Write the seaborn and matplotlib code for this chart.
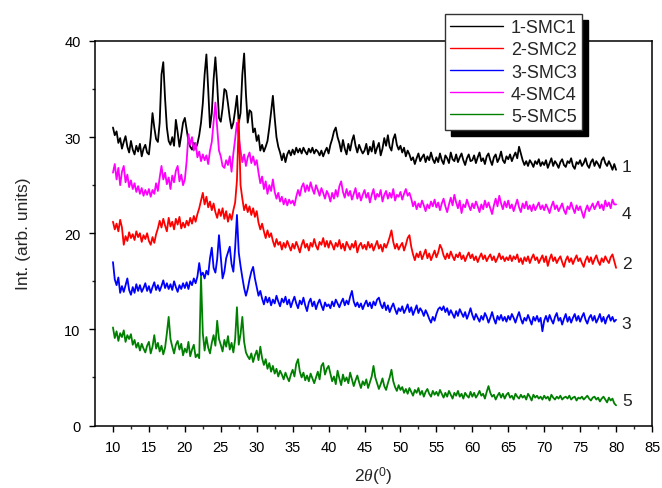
import numpy as np
import pandas as pd
import matplotlib
matplotlib.use("Agg")
import matplotlib.pyplot as plt
import seaborn as sns

# 2-theta grid (degrees), 0.25 deg steps from 10 to 80
two_theta = np.linspace(10, 80, 281)

smc1 = [
    31.0, 30.2, 30.6, 29.4, 29.9, 28.8, 29.5, 30.1, 29.0, 28.4, 29.6, 28.7, 28.2, 29.1, 28.5, 29.3, 28.0, 28.8, 29.2, 28.4,
    28.2, 30.0, 32.5, 31.0, 29.8, 29.5, 31.5, 36.5, 37.8, 34.0, 31.0, 29.6, 29.2, 30.0, 29.1, 31.8, 30.5, 29.0, 30.2, 31.5,
    32.0, 30.8, 29.6, 29.0, 28.7, 29.4, 28.8, 29.3, 30.2, 31.5, 33.5, 36.5, 38.6, 35.0, 31.0, 32.5, 36.0, 38.3, 35.5, 32.0,
    31.6, 33.0, 35.0, 34.8, 33.5, 32.0, 30.9, 31.5, 32.8, 34.3, 31.5, 32.5, 36.5, 38.7, 34.5, 31.5, 32.8, 32.6, 30.5, 30.9,
    29.6, 30.2, 28.6, 29.2, 28.5, 29.0, 29.6, 31.0, 32.6, 34.3, 32.0, 30.0, 29.0, 28.4, 27.6, 28.3, 27.4, 28.2, 28.6, 28.1,
    28.7, 28.2, 28.9, 28.4, 28.8, 28.3, 28.9, 28.5, 28.2, 28.8, 28.4, 28.9, 28.3, 28.7, 28.5, 28.1, 28.6, 28.0, 28.5, 28.9,
    28.3, 29.2, 29.8, 30.6, 31.0, 30.0, 29.4, 28.5, 29.7, 28.8, 28.2, 29.3, 28.6, 29.6, 30.2, 29.1, 28.4, 29.2, 28.7, 28.3,
    28.6, 29.3, 28.2, 29.0, 28.5, 29.6, 28.3, 28.9, 29.4, 28.1, 28.8, 29.9, 29.1, 30.2, 29.0, 28.6, 29.8, 30.3, 29.2, 28.7,
    29.1, 28.4, 28.9, 28.0, 28.6, 28.2, 27.6, 27.9, 27.2, 27.8, 28.3, 27.5, 27.9, 28.2, 27.4, 28.0, 27.6, 28.4, 27.7, 27.3,
    27.9, 27.4, 28.3, 27.6, 27.2, 28.1, 27.8, 27.3, 28.4, 27.7, 27.5, 28.2, 27.4, 27.9, 28.3, 27.6, 27.1, 27.8, 28.2, 27.5,
    27.6, 28.1, 27.3, 27.9, 28.4, 27.5, 27.8, 27.2, 28.0, 28.3, 27.6, 27.1, 27.9, 28.2, 27.4, 27.8, 28.5, 27.6, 27.3, 28.0,
    27.7, 28.2, 27.5, 28.0, 28.4, 27.8, 29.0, 28.3, 27.6, 27.1, 27.5, 27.0, 27.6, 27.3, 26.9, 27.5, 27.2, 27.7, 27.0, 27.4,
    27.1, 27.6, 26.8, 27.3, 27.8, 27.0, 27.5, 27.2, 26.8, 27.4, 27.7, 27.1, 26.9, 27.5, 27.3, 27.8, 27.0, 26.7, 27.4, 27.2,
    27.6, 27.0, 27.3, 27.8, 27.1, 26.8, 27.4, 27.7, 27.0, 27.5, 27.2, 26.8, 27.6, 27.9, 27.3, 27.0, 27.5, 27.1, 26.6, 27.2,
    26.6,
]

smc2 = [
    21.2, 20.4, 21.0, 20.2, 21.4, 20.6, 18.8, 19.7, 19.2, 20.1, 19.5, 19.9, 19.3, 20.2, 19.6, 20.0, 19.1, 19.8, 19.4, 20.0,
    19.2, 18.8, 19.6, 19.0, 19.9, 20.5, 21.3, 20.6, 21.5, 20.8, 20.2, 21.6, 20.7, 21.2, 20.4, 21.5, 20.9, 21.7, 20.5, 21.1,
    20.6, 21.3, 20.8, 21.6, 21.0, 21.8, 21.2, 22.0, 22.6, 23.4, 24.2, 23.0, 23.8, 22.7, 23.3, 22.4, 23.1, 22.2, 21.6, 22.5,
    21.8, 22.6, 21.5, 22.3, 21.2, 22.0, 21.4, 22.4, 23.2, 25.5, 31.8, 25.0, 23.6, 22.4, 23.0, 22.2, 22.8, 21.9, 22.6, 21.7,
    22.3, 21.1, 20.4, 21.0, 20.2, 19.5, 20.3, 19.6, 20.0, 19.2, 18.6, 19.4, 18.8, 19.1, 18.3, 19.0, 18.5, 19.2, 18.7, 18.2,
    18.9, 18.4, 19.1, 18.6, 18.0, 18.8, 19.3, 18.5, 18.9, 18.2, 19.0, 18.6, 19.4, 18.7, 18.3, 19.1, 18.8, 19.5, 18.6, 19.2,
    18.5, 19.2, 18.8, 18.3, 19.0, 18.6, 19.3, 18.4, 18.9, 18.2, 19.1, 18.7, 18.3, 18.9, 18.5, 19.2, 18.0, 18.7, 19.0, 18.4,
    18.8, 18.3, 19.1, 18.5, 18.9, 18.2, 18.7, 19.2, 18.4, 18.8, 18.1, 18.9, 18.5, 19.0, 19.6, 20.3, 19.1, 18.4, 18.9, 18.3,
    18.7, 19.0, 18.2, 18.8, 19.5, 19.8, 18.6, 17.8, 17.2, 17.9, 17.5, 18.1, 17.3, 17.8, 18.3, 17.4, 17.9, 17.2, 17.7, 18.2,
    17.5, 18.0, 18.8, 18.4, 17.7, 17.3, 17.9, 17.4, 18.1, 17.6, 17.2, 17.8, 17.5, 18.0, 17.3, 17.7, 17.1, 17.6, 18.0, 17.4,
    17.8, 17.2, 17.6, 17.0, 17.5, 17.9, 17.3, 17.7, 17.1, 17.5, 17.8, 17.2, 17.6, 17.0, 17.4, 17.9, 17.3, 17.6, 17.1, 17.5,
    17.2, 17.7, 17.1, 17.6, 17.3, 17.8, 17.0, 17.4, 16.8, 17.5, 17.1, 17.6, 16.9, 17.4, 17.8, 17.2, 17.5, 16.9, 17.3, 17.7,
    17.0, 17.6, 16.6, 17.3, 17.8, 17.1, 17.5, 16.9, 17.3, 17.6, 17.0, 16.5, 17.2, 17.6, 17.0, 17.4, 16.8, 17.3, 17.7, 17.1,
    17.4, 16.9, 16.5, 17.2, 17.6, 17.0, 17.5, 16.8, 17.3, 17.7, 17.1, 16.7, 17.4, 17.0, 17.6, 17.2, 16.9, 17.5, 17.8, 17.1,
    16.4,
]

smc3 = [
    17.0, 15.2, 14.6, 15.4, 13.8, 14.5, 13.9, 14.6, 15.3, 14.1, 13.6, 14.4, 13.8, 14.7, 14.0, 14.6, 13.9, 14.3, 14.8, 14.0,
    14.5, 13.8, 14.4, 14.9, 14.1, 14.6, 14.0, 14.5, 15.1, 14.3, 14.8, 14.2, 14.7, 14.1, 15.0, 14.4, 13.9, 14.6, 14.2, 14.8,
    14.3, 14.9, 14.2, 15.0, 14.6, 15.3, 14.8, 15.5, 16.9, 15.6, 15.9, 15.3, 16.1, 15.7, 17.4, 18.5, 16.4, 15.9, 17.3, 19.8,
    17.5, 15.3, 16.0, 17.4, 18.0, 18.6, 16.8, 16.0, 18.5, 21.9, 18.0, 16.6, 15.4, 14.3, 13.5, 14.2, 15.2, 16.0, 16.5, 15.3,
    14.4, 13.5, 14.0, 13.2, 12.6, 13.4, 12.8, 13.3, 12.5, 13.1, 12.7, 13.5, 12.9, 12.4, 13.2, 12.8, 13.4, 12.6, 13.1, 12.3,
    12.9, 13.4, 12.7, 12.2, 13.0, 12.6, 13.3, 12.5, 11.9, 12.8, 13.2, 12.4, 12.9, 12.1, 12.7, 13.1, 12.5, 12.0, 12.8, 12.4,
    12.6, 12.2, 12.9, 12.4, 13.1, 12.7, 12.3, 12.8, 13.2, 12.5, 13.0, 12.6, 13.4, 14.0, 12.9, 12.4, 12.8, 12.3, 12.7, 12.1,
    12.6, 13.0, 12.4, 12.8, 12.2, 12.9, 12.5, 13.1, 13.3, 12.6, 12.2, 12.8, 12.0, 12.5, 11.8, 12.3, 12.7, 12.1, 11.6, 12.2,
    11.9, 12.4, 11.7, 12.1, 12.6, 11.8, 12.3, 11.5, 12.0, 12.5, 11.7, 12.2, 11.9, 11.4, 12.0, 11.6, 11.1, 10.7, 11.3, 10.9,
    11.6, 12.1, 12.3, 12.0, 12.4, 11.8, 12.2, 11.5, 12.0, 11.6, 11.2, 11.9, 11.4, 12.1, 11.7, 11.3, 11.8, 11.1, 11.6, 12.2,
    11.5, 11.0, 11.6, 11.2, 10.8, 11.4, 11.0, 11.7, 11.3, 10.7, 11.2, 11.8, 11.1, 10.6, 11.4, 11.0, 11.5, 10.9, 11.3, 10.8,
    11.4, 11.0, 11.6, 11.2, 10.7, 11.3, 11.8, 11.1, 10.6, 11.2, 10.9, 11.5, 11.0, 10.5, 11.3, 10.9, 11.4, 10.8, 11.2, 9.8,
    10.9, 11.4, 10.8, 11.5, 11.0, 10.6, 11.3, 11.7, 10.9, 11.2, 10.5, 11.1, 11.6, 10.8, 11.3, 10.7, 11.2, 11.6, 10.9, 11.4,
    10.8, 11.3, 11.7, 11.0, 10.6, 11.2, 11.5, 10.9, 11.4, 10.7, 11.1, 11.6, 10.8, 11.3, 10.6, 11.2, 11.5, 10.9, 11.3, 10.8,
    11.0,
]

smc4 = [
    26.3, 27.2, 25.6, 26.8, 25.0, 26.4, 27.0, 25.3, 26.1, 24.8, 25.5, 24.6, 25.2, 24.3, 24.9, 24.1, 24.7, 23.9, 24.5, 24.0,
    24.6, 23.8, 24.5, 24.1, 25.2, 24.4, 25.8, 27.0, 25.6, 26.3, 25.1, 25.8, 24.6, 26.0, 25.3, 26.5, 27.0, 25.4, 26.1, 25.0,
    25.6, 27.5, 30.3, 29.2, 30.0, 28.6, 29.4, 27.9, 28.5, 27.5, 28.2, 27.6, 28.1, 27.2, 28.6, 29.5, 31.5, 33.6, 31.0, 28.6,
    28.0, 27.0, 26.8, 27.6, 27.1, 28.0, 26.4, 28.3, 29.8, 31.5, 30.0, 28.6, 27.4, 28.2, 27.0, 27.9, 28.4, 27.3, 28.0, 27.1,
    27.6, 26.3, 25.2, 25.9, 24.6, 25.4, 24.1, 25.0, 24.4, 25.6, 24.3, 23.6, 24.2, 23.3, 23.8, 23.0, 23.6, 22.9, 23.5, 23.1,
    23.4, 22.9, 23.8, 24.5, 23.9, 24.8, 25.2, 24.3, 25.0, 24.4, 25.3, 24.6, 24.1, 25.0, 24.5, 23.9, 24.7, 24.2, 23.6, 24.4,
    24.0, 23.3, 24.2, 23.6, 24.5, 23.8, 24.9, 25.4, 24.3, 23.7, 24.6, 23.9, 24.4, 23.5, 24.1, 24.7, 23.6, 24.2, 23.4, 24.0,
    24.5, 23.7, 24.2, 23.2, 24.0, 24.6, 23.5, 24.1, 23.8, 24.5, 23.3, 24.0, 24.4, 23.6, 24.2, 23.7, 24.6, 23.4, 24.0, 23.8,
    24.3, 23.5, 24.1, 24.6, 23.9, 24.2, 23.6, 22.8, 23.3, 22.5, 23.1, 22.7, 23.4, 22.9, 22.3, 23.0, 22.6, 23.3, 22.8, 23.5,
    22.7, 23.2, 22.4, 23.1, 23.6, 22.8, 22.2, 23.0, 23.7, 22.9, 24.0, 23.2, 22.6, 23.4, 22.1, 23.0, 22.7, 23.5, 22.9, 22.4,
    23.1, 22.6, 23.3, 22.8, 22.2, 23.0, 22.5, 23.4, 22.7, 23.2, 22.6, 22.0, 22.9, 23.6, 22.8, 23.9, 23.1, 22.5, 23.3, 22.7,
    23.4, 22.6, 23.0, 22.3, 22.9, 23.5, 22.7, 22.2, 23.1, 22.6, 23.3, 22.5, 22.9, 22.3, 23.0, 22.4, 22.8, 23.2, 22.5, 22.9,
    22.4, 23.0, 22.6, 22.1, 22.8, 23.3, 22.5, 22.9, 22.3, 22.7, 23.1, 22.4, 22.0, 22.8, 22.5, 23.2, 22.6, 22.1, 22.9, 22.4,
    22.8, 22.2, 21.6, 22.4, 22.9, 22.3, 22.7, 23.1, 22.5, 22.9, 23.3, 22.6, 23.0, 22.4, 23.4, 22.8, 23.2, 22.6, 23.5, 23.0,
    23.0,
]

smc5 = [
    10.2, 9.1, 9.8, 8.8, 9.6, 9.2, 9.9, 8.7, 9.4, 9.0, 9.5, 8.4, 8.9, 8.1, 8.6, 7.8, 8.5, 8.0, 7.6, 8.3,
    8.7, 7.5, 8.2, 9.4, 8.0, 8.6, 7.7, 8.3, 7.4, 8.1, 9.6, 11.3, 9.0, 8.2, 7.5, 8.4, 8.8, 7.9, 8.5, 7.3,
    8.0, 7.6, 8.7, 7.2, 7.9, 8.4, 7.1, 7.4, 7.0, 15.5, 9.6, 7.8, 9.2, 8.1, 7.5, 8.6, 9.4, 8.3, 10.9, 9.0,
    8.4, 7.7, 8.9, 8.2, 9.3, 7.9, 8.6, 7.6, 9.0, 12.3, 8.4, 9.5, 11.3, 8.7, 7.6, 7.2, 6.9, 7.5, 6.6, 7.3,
    7.8, 6.8, 8.2, 7.0, 6.3, 6.9, 5.9, 6.5, 5.6, 6.2, 5.4, 5.9, 5.1, 5.7, 5.3, 4.8, 5.5, 5.0, 4.6, 5.3,
    5.8, 5.1, 6.4, 6.9, 5.6, 5.0, 5.5, 4.7, 5.2, 4.6, 5.4, 4.9, 4.4, 5.0, 5.6, 4.8, 6.2, 6.5, 5.3, 5.9,
    6.2, 5.4, 4.6, 5.1, 4.3, 5.7, 4.9, 4.2, 5.3, 4.6, 5.0, 4.4, 5.5, 4.8, 4.1, 4.7, 5.2, 4.5, 3.9, 4.6,
    4.2, 4.8, 3.9, 4.5, 5.1, 6.2, 5.0, 4.4, 3.8, 4.3, 4.9, 4.1, 3.7, 4.4, 5.0, 5.8, 4.6, 4.0, 3.6, 4.2,
    3.7, 4.0, 3.4, 3.8, 3.3, 3.9, 3.5, 3.1, 3.7, 3.4, 3.9, 3.2, 3.6, 3.0, 3.5, 3.8, 3.3, 3.0, 3.6, 3.2,
    3.5, 3.1, 3.7, 3.3, 2.9, 3.4, 3.0, 3.6, 3.2, 2.8, 3.4, 3.1, 3.6, 3.0, 3.3, 2.8, 3.4, 3.1, 2.9, 3.5,
    3.0, 3.4, 2.9, 3.2, 3.6, 3.1, 3.3, 2.8, 3.5, 4.1, 3.4, 3.0, 3.2, 2.7, 3.1, 3.4, 2.9, 3.3, 2.8, 3.2,
    3.4, 2.9, 3.1, 2.7, 3.3, 3.0, 2.8, 3.2, 2.9, 3.1, 2.7, 3.3, 3.0, 2.6, 3.2, 2.9, 3.1, 2.8, 3.0, 2.7,
    3.1, 2.8, 3.0, 2.6, 3.2, 2.9, 2.7, 3.0, 2.8, 3.1, 2.7, 2.9, 3.0, 2.8, 3.1, 2.7, 2.9, 3.0, 2.6, 2.9,
    2.8, 3.0, 2.7, 2.9, 3.1, 2.8, 2.6, 2.9, 3.0, 2.7, 2.9, 2.5, 2.8, 3.0, 2.7, 2.4, 2.9, 2.6, 2.8, 2.3,
    2.1,
]

labels = ["1-SMC1", "2-SMC2", "3-SMC3", "4-SMC4", "5-SMC5"]
colors = ["#000000", "#ff0000", "#0000ff", "#ff00ff", "#008000"]
end_labels = ["1", "2", "3", "4", "5"]
end_label_y = [26.9, 16.9, 10.6, 22.1, 2.6]
x_ticks = [10, 15, 20, 25, 30, 35, 40, 45, 50, 55, 60, 65, 70, 75, 80, 85]
y_ticks = [0, 10, 20, 30, 40]

series = [smc1, smc2, smc3, smc4, smc5]
frames = []
for lab, vals in zip(labels, series):
    assert len(vals) == len(two_theta), (lab, len(vals))
    frames.append(pd.DataFrame({"two_theta": two_theta, "intensity": vals, "sample": lab}))
df = pd.concat(frames, ignore_index=True)

sns.set_style("ticks")
plt.rcParams["font.family"] = ["Liberation Sans", "DejaVu Sans"]
plt.rcParams["mathtext.fontset"] = "custom"
plt.rcParams["mathtext.it"] = "Liberation Serif:italic"
plt.rcParams["mathtext.rm"] = "Liberation Sans"

fig = plt.figure(figsize=(6.62, 4.89), dpi=100)
ax = fig.add_axes([95 / 662, 1 - 426.5 / 489, (652 - 95) / 662, (426.5 - 42) / 489])

# draw order so red peak sits above magenta
order = [0, 3, 1, 2, 4]
handles = {}
for i in order:
    sub = df[df["sample"] == labels[i]]
    sns.lineplot(data=sub, x="two_theta", y="intensity", color=colors[i], lw=1.3,
                 ax=ax, label=labels[i], sort=False, legend=False, errorbar=None)
    handles[labels[i]] = ax.lines[-1]

for lab, yv in zip(end_labels, end_label_y):
    ax.text(80.8, yv, lab, fontsize=12.5, ha="left", va="center", color="#222222")

ax.set_xlim(7.5, 85)
ax.set_ylim(0, 40)
ax.set_xticks(x_ticks)
ax.set_yticks(y_ticks)
ax.set_xticks(np.arange(12.5, 85, 5), minor=True)
ax.set_yticks([5, 15, 25, 35], minor=True)
ax.tick_params(axis="both", which="major", direction="out", length=4.3, width=1.0,
               labelsize=10.5, colors="black", pad=6)
ax.tick_params(axis="both", which="minor", direction="out", length=2.5, width=1.0)
for s in ax.spines.values():
    s.set_visible(True)
    s.set_linewidth(1.1)
    s.set_color("black")

ax.set_xlabel(r"2$\theta$($^0$)", fontsize=12.5, labelpad=8)
ax.set_ylabel("Int. (arb. units)", fontsize=12.5, labelpad=24)

leg = fig.legend([handles[l] for l in labels], labels,
                 loc="upper left", bbox_to_anchor=(445 / 662, 1 - 15 / 489),
                 bbox_transform=fig.transFigure, borderaxespad=0,
                 fontsize=13, frameon=True, fancybox=False,
                 shadow={"ox": 4, "oy": -4, "facecolor": "black", "edgecolor": "black", "alpha": 1},
                 handlelength=2.9, handletextpad=0.45, labelspacing=0.28,
                 borderpad=0.3)
leg.get_frame().set_edgecolor("#333333")
leg.get_frame().set_linewidth(1.0)
leg.get_frame().set_facecolor("white")
leg.get_frame().set_alpha(1)
for lh in leg.get_lines():
    lh.set_linewidth(1.0)

fig.savefig("out.png", dpi=100)
